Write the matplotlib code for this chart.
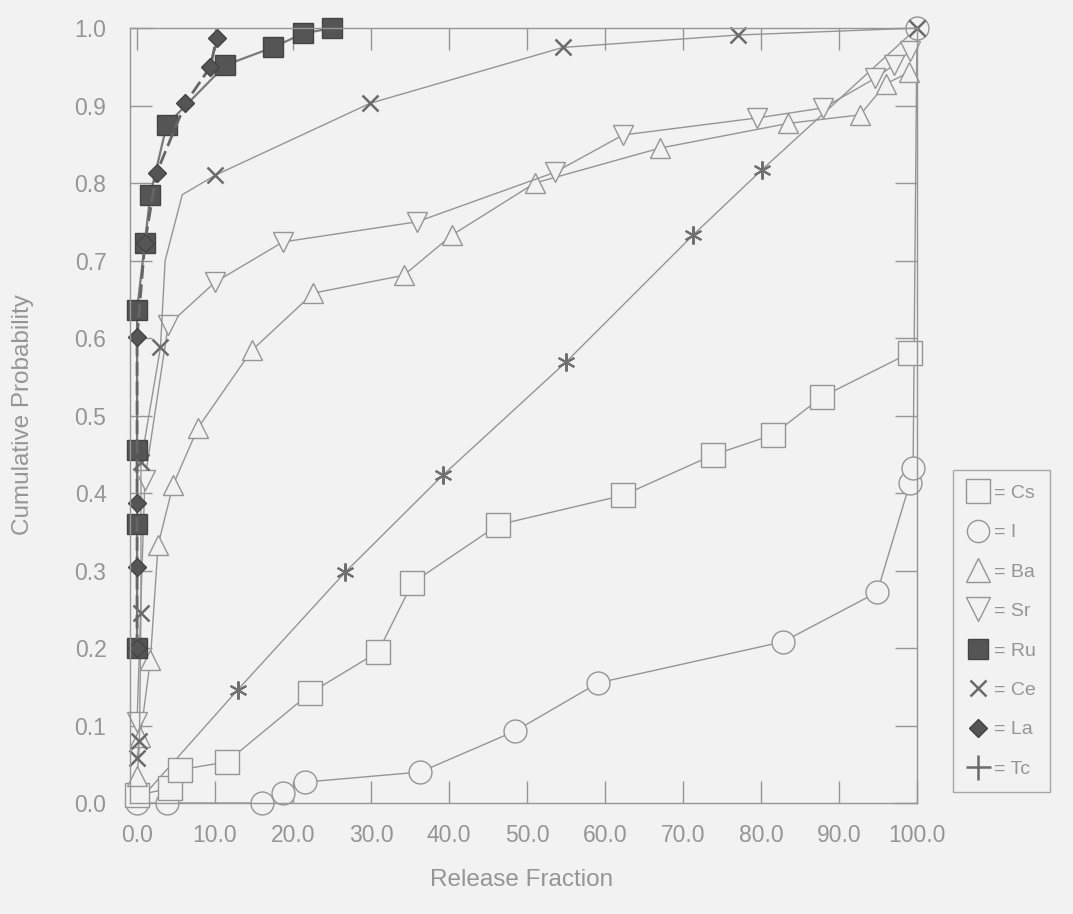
import matplotlib
matplotlib.use("Agg")
import matplotlib.pyplot as plt
from matplotlib.lines import Line2D

plt.rcParams['font.family'] = ['Liberation Sans', 'DejaVu Sans']

bg = "#f2f2f2"
gray = "#959595"
dark = "#555555"
txt = "#959595"

# release fraction (x) / cumulative probability (y)
cs_x = [0.0, 4.2, 5.5, 11.5, 22.2, 30.9, 35.3, 46.3, 62.3, 73.8, 81.5, 87.8, 99.1]
cs_y = [0.01, 0.019, 0.043, 0.053, 0.142, 0.195, 0.284, 0.359, 0.397, 0.449, 0.475, 0.524, 0.581]

i_x = [0.0, 3.8, 16.0, 18.7, 21.5, 36.3, 48.5, 59.1, 82.8, 94.9, 99.1, 99.5, 100.0]
i_y = [0.0, 0.0, 0.0, 0.013, 0.027, 0.04, 0.093, 0.155, 0.208, 0.272, 0.413, 0.432, 1.0]

ba_x = [0.0, 0.4, 1.7, 2.7, 4.6, 7.8, 14.7, 22.6, 34.2, 40.4, 51.0, 67.0, 83.5, 92.7, 96.0, 99.0]
ba_y = [0.035, 0.085, 0.184, 0.333, 0.41, 0.484, 0.584, 0.658, 0.681, 0.733, 0.80, 0.845, 0.877, 0.888, 0.928, 0.943]

sr_x = [0.0, 1.0, 4.0, 10.0, 18.7, 35.9, 53.6, 62.3, 79.5, 88.0, 94.6, 97.0, 99.1]
sr_y = [0.105, 0.417, 0.617, 0.672, 0.724, 0.75, 0.814, 0.862, 0.884, 0.897, 0.935, 0.952, 0.97]

ru_x = [0.0, 0.0, 0.0, 0.0, 1.0, 1.7, 3.8, 11.3, 17.4, 21.3, 25.0]
ru_y = [0.2, 0.36, 0.455, 0.636, 0.723, 0.785, 0.875, 0.952, 0.975, 0.993, 1.0]

ce_x = [0.0, 0.3, 0.5, 0.5, 3.0, 3.6, 5.8, 10.0, 29.9, 54.6, 77.0, 100.0]
ce_y = [0.058, 0.08, 0.245, 0.44, 0.588, 0.70, 0.785, 0.81, 0.903, 0.975, 0.991, 1.0]
ce_marked = [0, 1, 2, 3, 4, 7, 8, 9, 10, 11]

la_x = [0.0, 0.0, 0.0, 0.0, 1.0, 2.5, 6.2, 9.4, 10.2]
la_y = [0.2, 0.304, 0.387, 0.601, 0.723, 0.813, 0.903, 0.95, 0.987]

tc_x = [0.0, 12.9, 26.7, 39.2, 55.0, 71.3, 80.1, 100.0]
tc_y = [0.0, 0.146, 0.298, 0.423, 0.569, 0.733, 0.817, 1.0]

xticks = [0, 10, 20, 30, 40, 50, 60, 70, 80, 90, 100]
yticks = [0.0, 0.1, 0.2, 0.3, 0.4, 0.5, 0.6, 0.7, 0.8, 0.9, 1.0]
legend_labels = ["= Cs", "= I", "= Ba", "= Sr", "= Ru", "= Ce", "= La", "= Tc"]

fig = plt.figure(figsize=(10.73, 9.14), dpi=100, facecolor=bg)
ax = fig.add_axes([0.1212, 0.1214, 0.7334, 0.8479], facecolor=bg)

kw = dict(color=gray, lw=1.0, clip_on=False)
ax.plot(tc_x, tc_y, marker=(6, 2, 0), ms=13, mec="#707070", mew=1.5, **kw)
ax.plot(i_x, i_y, marker="o", ms=16.5, mfc=bg, mec=gray, mew=1.0, **kw)
ax.plot(cs_x, cs_y, marker="s", ms=17, mfc=bg, mec=gray, mew=1.0, **kw)
ax.plot(ba_x, ba_y, marker="^", ms=15, mfc=bg, mec=gray, mew=1.0, **kw)
ax.plot(sr_x, sr_y, marker="v", ms=15, mfc=bg, mec=gray, mew=1.0, **kw)
ax.plot(ce_x, ce_y, marker="x", ms=12, mec="#6a6a6a", mew=1.8, markevery=ce_marked, **kw)
ax.plot(ru_x, ru_y, marker="s", ms=15, mfc=dark, mec="#444444", mew=1.0,
        color="#7a7a7a", lw=1.6, clip_on=False)
ax.plot(la_x, la_y, marker="D", ms=9.5, mfc=dark, mec="#444444", mew=1.0,
        color="#666666", lw=2.0, ls=(0, (5, 2)), clip_on=False)

ax.set_xlim(-0.9, 100)
ax.set_ylim(0, 1.0)
ax.set_xticks(xticks)
ax.set_xticklabels([f"{v:.1f}" for v in xticks])
ax.set_yticks(yticks)
ax.set_yticklabels([f"{v:.1f}" for v in yticks])
ax.tick_params(direction="in", length=16, width=1, color=gray, labelcolor=txt,
               labelsize=16.5, top=True, right=True)
ax.tick_params(axis="x", pad=15)
ax.tick_params(axis="y", pad=17)
for s in ax.spines.values():
    s.set_color(gray)
    s.set_linewidth(1.0)

fig.text(0.021, 0.546, "Cumulative Probability", rotation=90, ha="center", va="center",
         fontsize=17.5, color=txt)
fig.text(0.486, 0.037, "Release Fraction", ha="center", va="center", fontsize=17.5, color=txt)

handles = [
    Line2D([], [], ls="none", marker="s", ms=17, mfc=bg, mec=gray),
    Line2D([], [], ls="none", marker="o", ms=16, mfc=bg, mec=gray),
    Line2D([], [], ls="none", marker="^", ms=17, mfc=bg, mec=gray),
    Line2D([], [], ls="none", marker="v", ms=17, mfc=bg, mec=gray),
    Line2D([], [], ls="none", marker="s", ms=15, mfc=dark, mec="#444444"),
    Line2D([], [], ls="none", marker="x", ms=12, mec="#6a6a6a", mew=1.8),
    Line2D([], [], ls="none", marker="D", ms=9, mfc=dark, mec="#444444"),
    Line2D([], [], ls="none", marker="+", ms=18, mec="#6a6a6a", mew=1.8),
]
leg = fig.legend(handles, legend_labels, loc="upper left", bbox_to_anchor=(0.888, 0.486),
                 frameon=True, fancybox=False, facecolor=bg, edgecolor=gray,
                 fontsize=14, labelspacing=1.12, handletextpad=0.25, handlelength=1.1,
                 borderpad=0.75, borderaxespad=0)
for t in leg.get_texts():
    t.set_color(txt)
leg.get_frame().set_linewidth(1.0)

fig.savefig("out.png", dpi=100, facecolor=bg)
